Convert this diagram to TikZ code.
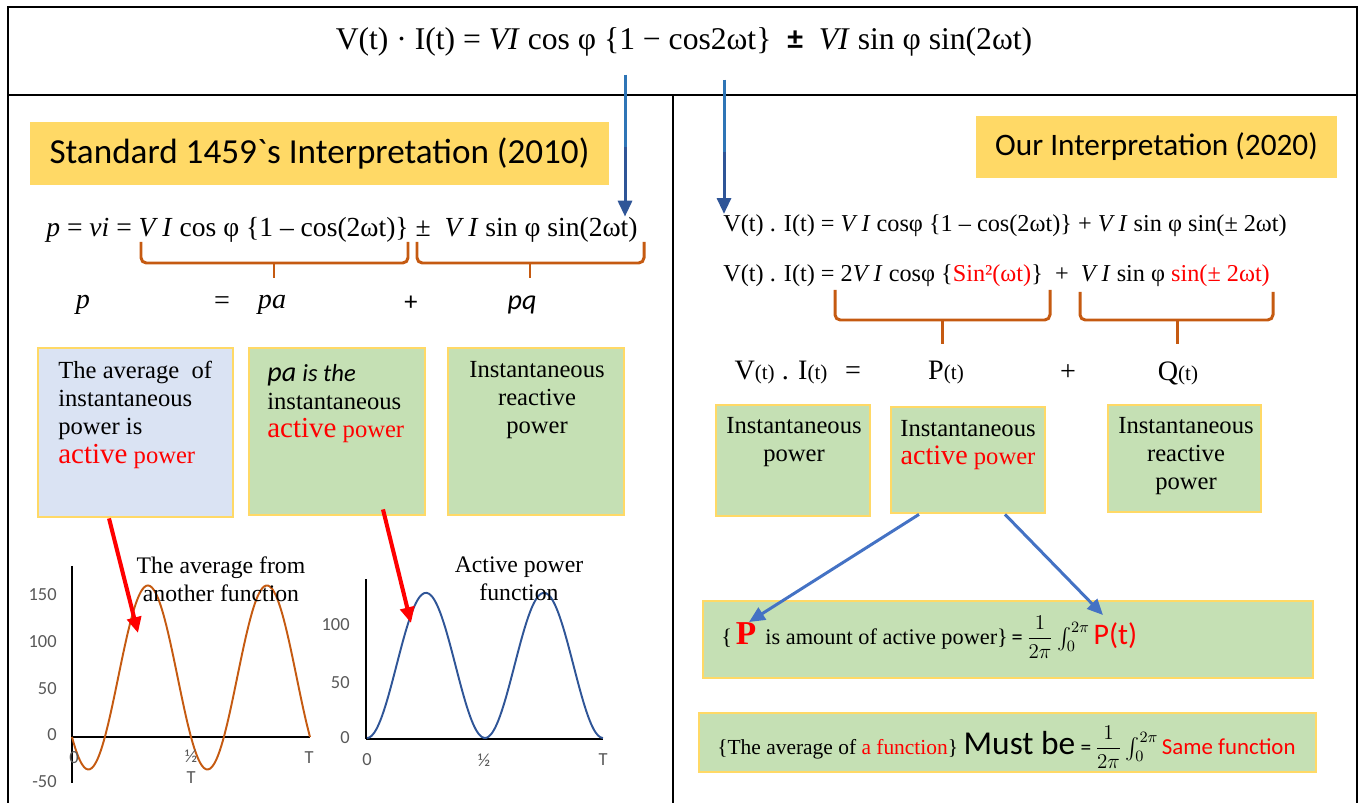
\documentclass[tikz,border=0pt]{standalone}
\usepackage{fontspec}
\usepackage{amsmath}
\usetikzlibrary{arrows.meta,positioning}
\setmainfont{Liberation Serif}
\newfontfamily\calibri[Ligatures=TeXOff]{Carlito}
\definecolor{titleyellow}{HTML}{FFD966}
\definecolor{edgeyellow}{HTML}{FFD966}
\definecolor{boxgreen}{HTML}{C5E0B4}
\definecolor{boxblue}{HTML}{DAE3F3}
\definecolor{braceorange}{HTML}{C55A11}
\definecolor{arrowblue}{HTML}{4472C4}
\definecolor{darkblue}{HTML}{2F5597}
\definecolor{lightblue}{HTML}{2E75B6}
\definecolor{axisgray}{HTML}{595959}
\newcommand{\fs}[2]{\fontsize{#1}{#2}\selectfont}

\begin{document}
\begin{tikzpicture}[x=0.02cm,y=-0.02cm,
	framerule/.style={line width=1.2pt},
	titlebox/.style={fill=titleyellow,font=\calibri\fs{17.8}{20}},
	greenbox/.style={draw=edgeyellow,line width=1.6pt,fill=boxgreen},
	bluebox/.style={draw=edgeyellow,line width=1.6pt,fill=boxblue},
	boxtext/.style={font=\fs{14}{16},inner sep=0pt},
	eqtext/.style={font=\fs{13.8}{18},inner sep=0pt},
	powerbrace/.style={draw=braceorange,line width=1.7pt,rounded corners=3pt},
	chartaxis/.style={line width=1pt},
	ticklabel/.style={font=\calibri\fs{10.5}{12},text=axisgray,inner sep=0pt},
	charttitle/.style={font=\fs{13.5}{16},align=center,inner sep=0pt},
	redarrow/.style={red,line width=2.3pt,-{Triangle[length=9pt,width=8pt]}},
	bluearrow/.style={arrowblue,line width=1.7pt,-{Triangle[length=9pt,width=8pt]}},
	downarrow/.style={darkblue,line width=1.7pt,-{Triangle[length=9pt,width=8pt]}},
	lightline/.style={lightblue,line width=1.7pt}]
		\useasboundingbox (0,0) rectangle (1359,803);
		\draw[framerule] (8,803) -- (8,7) -- (1357,7) -- (1357,803);
		\draw[framerule] (8,95) -- (1357,95);
		\draw[framerule] (673,95) -- (673,803);

		\node[eqtext,font=\fs{18}{22}] (topeq) at (684,42) {V(t)\ ·\ I(t) = \textit{VI} cos φ \{1 − cos2ωt\}\enspace{\calibri\bfseries ±}\enspace\textit{VI} sin φ sin(2ωt)};

		\node[titlebox,font=\calibri\fs{20}{22},minimum width=11.58cm,minimum height=1.26cm] (std) at (319.5,153.5) {Standard 1459`s Interpretation (2010)};
		\node[titlebox,minimum width=7.22cm,minimum height=1.24cm] (ours) at (1156.5,147) {Our Interpretation (2020)};

		\node[eqtext,font=\fs{15.7}{18},anchor=mid west] (leq) at (46,232) {\textit{p} = \textit{vi} = \textit{V I} cos φ \{1 – cos(2ωt)\} ±\ \ \textit{V I} sin φ sin(2ωt)};
		\node[eqtext,anchor=mid west] (req1) at (723,227) {V(t) . I(t) = \textit{V I} cosφ \{1 – cos(2ωt)\} + \textit{V I} sin φ sin(± 2ωt)};
		\node[eqtext,anchor=mid west] (req2) at (723,277) {V(t) . I(t) = 2\textit{V I} cosφ \{{\color{red}Sin²(ωt)}\}\ \ +\ \ \textit{V I} sin φ {\color{red}sin(± 2ωt)}};

		\coordinate (lt) at (625,75);
		\coordinate (rt) at (724,80);
		\draw[downarrow] (lt) -- (lt |- leq.north);
		\draw[lightline] (lt) -- ++(0,72);
		\draw[downarrow] (rt) -- (rt |- req1.north);
		\draw[lightline] (rt) -- ++(0,72);

		\draw[powerbrace] (141,242) |- (408,263) -- (408,242);
		\draw[powerbrace] (274,263) -- (274,278);
		\draw[powerbrace] (417,242) |- (644,263) -- (644,242);
		\draw[powerbrace] (530,263) -- (530,278);
		\draw[powerbrace] (835,290) |- (1050,320) -- (1050,290);
		\draw[powerbrace] (942,320) -- (942,344);
		\draw[powerbrace] (1080,292) |- (1273,320) -- (1273,292);
		\draw[powerbrace] (1177,320) -- (1177,344);

		\node[eqtext,font=\fs{16}{18}] (lp) at (83,305) {\textit{p}};
		\node[eqtext,font=\fs{16}{18}] (leqs) at (222,303) {=};
		\node[eqtext,font=\fs{16}{18}] (lpa) at (272,305) {\textit{pa}};
		\node[eqtext,font=\calibri\fs{15}{18}] (lplus) at (411,303) {+};
		\node[eqtext,font=\calibri\itshape\fs{16}{18}] (lpq) at (522,305) {pq};

		\node[eqtext,font=\fs{16}{18}] (vi) at (781,373) {V{\fs{12}{14}(t)} . I{\fs{12}{14}(t)}};
		\node[eqtext,font=\fs{16}{18}] (reqs) at (853,373) {=};
		\node[eqtext,font=\fs{16}{18}] (pt) at (946,373) {P{\fs{12}{14}(t)}};
		\node[eqtext,font=\fs{16}{18}] (rplus) at (1068,373) {+};
		\node[eqtext,font=\fs{16}{18}] (qt) at (1178,373) {Q{\fs{12}{14}(t)}};

		\node[bluebox,minimum width=3.9cm,minimum height=3.38cm] (b1) at (135.5,432.5) {};
		\node[greenbox,minimum width=3.52cm,minimum height=3.34cm] (b2) at (337,431.5) {};
		\node[greenbox,minimum width=3.52cm,minimum height=3.34cm] (b3) at (536,431.5) {};
		\node[boxtext,anchor=north west,align=left] (b1txt) at (58,361) {The average\ \ of\\instantaneous\\power is\\{\color{red}\fs{16.5}{18}active} {\color{red}power}};
		\node[boxtext,anchor=north west,align=left] (b2txt) at (267,364) {{\calibri\itshape\fs{16}{16}pa} {\calibri\itshape is the}\\instantaneous\\{\color{red}\fs{16.5}{18}active} {\color{red}power}};
		\node[boxtext,anchor=north,align=center] (b3txt) at (537,361) {Instantaneous\\reactive\\power};

		\node[greenbox,minimum width=3.08cm,minimum height=2.22cm] (r1) at (793,460.5) {};
		\node[greenbox,minimum width=3.08cm,minimum height=2.12cm] (r2) at (968,460) {};
		\node[greenbox,minimum width=3.06cm,minimum height=2.14cm] (r3) at (1184.5,458.5) {};
		\node[boxtext,anchor=north,align=center] (r1txt) at (794,417) {Instantaneous\\power};
		\node[boxtext,anchor=north,align=center] (r2txt) at (968,420) {Instantaneous\\{\color{red}\fs{16}{18}active} {\color{red}power}};
		\node[boxtext,anchor=north,align=center] (r3txt) at (1186,417) {Instantaneous\\reactive\\power};

		\node[greenbox,minimum width=12.2cm,minimum height=1.54cm] (r4) at (1008,639.5) {};
		\node[greenbox,minimum width=12.34cm,minimum height=1.18cm] (r5) at (1007.5,742.5) {};
		\node[eqtext,anchor=mid west] (amount) at (721,640) {\fs{12.7}{15}\{\,{\color{red}\fs{19}{20}\textbf{P}}\, is amount of active power\}\,{\calibri =}\,$\dfrac{1}{2\pi}\int_0^{2\pi}$\,{\calibri\fs{17}{20}\color{red}P(t)}};
		\node[eqtext,anchor=mid west] (sameavg) at (717,750) {\fs{12.2}{15}\{The average of {\color{red}a function}\}{\calibri\fs{19}{20}\,Must be} {\calibri =}\,$\dfrac{1}{2\pi}\int_0^{2\pi}$\,{\calibri\fs{13}{15}\color{red}Same function}};
		\coordinate (ptip) at (749,622);
		\coordinate (pttip) at (1103,615);
		\draw[bluearrow] ([xshift=-0.98cm]r2.south) -- (ptip);
		\draw[bluearrow] ([xshift=0.74cm]r2.south) -- (pttip);

		\draw[chartaxis] (72,566) -- (72,783);
		\draw[chartaxis] (72,737) -- (310,737);
		\draw[braceorange,line width=1.1pt] plot[domain=72:310,samples=120,smooth] (\x,{737-0.93*(64*(1-cos((\x-72)/238*720))-75.5*sin((\x-72)/238*720))});
		\node[ticklabel,anchor=east] (o150) at (57,595) {150};
		\node[ticklabel,anchor=east] (o100) at (57,642) {100};
		\node[ticklabel,anchor=east] (o50) at (57,689) {50};
		\node[ticklabel,anchor=east] (o0) at (57,735) {0};
		\node[ticklabel,anchor=east] (om50) at (57,782) {-50};
		\node[ticklabel] (ox0) at (74,758) {0};
		\node[ticklabel,align=center] (oxh) at (191,767) {½\\T};
		\node[ticklabel] (oxT) at (309,758) {T};
		\node[charttitle] (avgtitle) at (221,579) {The average from\\another function};

		\draw[chartaxis] (366,579) -- (366,739);
		\draw[chartaxis] (366,739) -- (603,739);
		\draw[darkblue,line width=1.1pt] plot[domain=367:603,samples=100,smooth] (\x,{738-1.1*66*(1-cos((\x-367)/236*720))});
		\node[ticklabel,anchor=east] (a100) at (350,625) {100};
		\node[ticklabel,anchor=east] (a50) at (350,683) {50};
		\node[ticklabel,anchor=east] (a0) at (350,738) {0};
		\node[ticklabel] (ax0) at (367,760) {0};
		\node[ticklabel] (axh) at (484,760) {½};
		\node[ticklabel] (axT) at (603,760) {T};
		\node[charttitle] (acttitle) at (519,579) {Active power\\function};

		\coordinate (avgtip) at (138,633);
		\coordinate (acttip) at (411,623);
		\draw[redarrow] ([xshift=-0.53cm]b1.south) -- (avgtip);
		\draw[redarrow] ([xshift=0.92cm,yshift=0.14cm]b2.south) -- (acttip);
	\end{tikzpicture}
\end{document}
